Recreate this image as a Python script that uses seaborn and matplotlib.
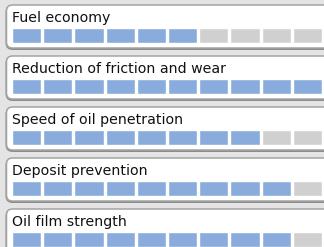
import pandas as pd
import matplotlib
matplotlib.use('Agg')
import seaborn as sns
import matplotlib.pyplot as plt
from matplotlib.patches import FancyBboxPatch

# ratings out of 10 for each property
features = ['Fuel economy', 'Reduction of friction and wear', 'Speed of oil penetration',
            'Deposit prevention', 'Oil film strength']
scores = [6, 10, 8, 9, 9]
max_score = 10

blue = '#8aacdc'
grey = '#d0d0d0'
W, H = 324, 247

sns.set_theme(style='white')
plt.rcParams['font.family'] = ['DejaVu Sans']

fig = plt.figure(figsize=(W / 100, H / 100), dpi=100)
fig.patch.set_facecolor('#e4e4e4')

# background axes in pixel units for the rounded panels
bg = fig.add_axes([0, 0, 1, 1])
bg.set_xlim(0, W)
bg.set_ylim(H, 0)
bg.axis('off')

for i, (name, score) in enumerate(zip(features, scores)):
    top = 5 + i * 51
    # soft shadow under each panel
    shadow = FancyBboxPatch((6.5, top + 1), 330, 43, boxstyle='round,pad=0,rounding_size=6',
                            fc='none', ec='#8a8a8a', lw=1.4)
    bg.add_patch(shadow)
    box = FancyBboxPatch((6.5, top), 330, 43, boxstyle='round,pad=0,rounding_size=6',
                         fc='white', ec='#a4a4a4', lw=1.1)
    bg.add_patch(box)
    bg.text(12, top + 17, name, fontsize=10.2, va='baseline', ha='left', color='#111111')

    seg = pd.DataFrame({'seg': range(max_score), 'val': 1,
                        'state': ['on' if k < score else 'off' for k in range(max_score)]})
    ax = fig.add_axes([11 / W, 1 - (top + 38) / H, 312 / W, 15 / H])
    sns.barplot(data=seg, x='seg', y='val', hue='state', palette={'on': blue, 'off': grey},
                dodge=False, width=0.93, saturation=1, legend=False, ax=ax)
    ax.set_xlim(-0.5, max_score - 0.5)
    ax.set_ylim(0, 1)
    ax.axis('off')

fig.savefig('out.png', dpi=100, facecolor=fig.get_facecolor())
